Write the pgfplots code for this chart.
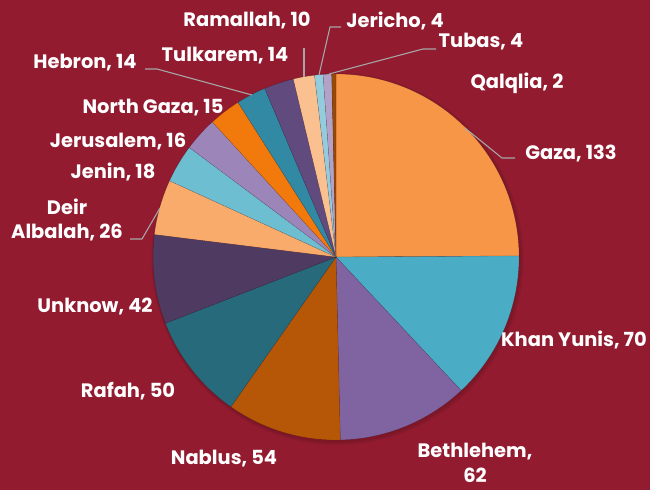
\documentclass[border=0pt]{standalone}
\usepackage{pgfplots}
\pgfplotsset{compat=1.18}
\usepackage{pgfplotstable}
\usepackage{fontspec}
\setmainfont{Poppins}
\definecolor{bg}{HTML}{921B30}
\definecolor{lead}{HTML}{A6A6A6}
\definecolor{c0}{HTML}{F79646}
\definecolor{c1}{HTML}{4BACC6}
\definecolor{c2}{HTML}{8064A2}
\definecolor{c3}{HTML}{B65708}
\definecolor{c4}{HTML}{276A7C}
\definecolor{c5}{HTML}{4F3B62}
\definecolor{c6}{HTML}{F9AB6C}
\definecolor{c7}{HTML}{6EBED2}
\definecolor{c8}{HTML}{9C86B9}
\definecolor{c9}{HTML}{F27A0C}
\definecolor{c10}{HTML}{3189A3}
\definecolor{c11}{HTML}{604A7E}
\definecolor{c12}{HTML}{FAC08F}
\definecolor{c13}{HTML}{93CDDD}
\definecolor{c14}{HTML}{B3A2C7}
\definecolor{c15}{HTML}{984807}

\pgfplotstableread{
value
133
70
62
54
50
42
26
18
16
15
14
14
10
4
4
2
}\piedata

\begin{document}
\def\total{0}%
\pgfplotstableforeachcolumnelement{value}\of\piedata\as\v{%
  \pgfmathsetmacro\tmp{\total+\v}\xdef\total{\tmp}}%
\def\cum{0}%
\pgfplotstableforeachcolumnelement{value}\of\piedata\as\v{%
  \pgfmathsetmacro\sa{90-(\cum/\total)*360}%
  \pgfmathsetmacro\nc{\cum+\v}%
  \pgfmathsetmacro\sb{90-(\nc/\total)*360}%
  \expandafter\xdef\csname sa\pgfplotstablerow\endcsname{\sa}%
  \expandafter\xdef\csname sb\pgfplotstablerow\endcsname{\sb}%
  \xdef\cum{\nc}}%
\begin{tikzpicture}[lbl/.style={font=\fontsize{19.5}{25}\selectfont\bfseries, text=white, inner sep=0pt, align=center},
  leader/.style={draw=lead, line width=1.1pt}]
\fill[bg] (0,0) rectangle (650bp,490bp);
\begin{axis}[at={(0,0)}, anchor=south west, x=1bp, y=1bp,
  xmin=0, xmax=650, ymin=0, ymax=490, hide axis, clip=false]
% soft shadow
\addplot[draw=none, fill=black, fill opacity=0.07, domain=0:360, samples=90, variable=\t] ({337.5+186*cos(\t)},{231+186*sin(\t)}) -- cycle;
\addplot[draw=none, fill=black, fill opacity=0.07, domain=0:360, samples=90, variable=\t] ({337+184.5*cos(\t)},{231.5+184.5*sin(\t)}) -- cycle;
\pgfplotsinvokeforeach{0,...,15}{
  \addplot[fill=c#1, draw=black, draw opacity=0.25, line width=0.3pt, domain=\csname sb#1\endcsname:\csname sa#1\endcsname, samples=80, variable=\t]
    ({336+183*cos(\t)},{233+183*sin(\t)}) -- (axis cs:336,233) -- cycle;
}
% leader lines
\draw[leader] (axis cs:465,362) -- (axis cs:502,332) -- (axis cs:515,332);
\draw[leader] (axis cs:329,416) -- (axis cs:423,441) -- (axis cs:436,441);
\draw[leader] (axis cs:319,415) -- (axis cs:330,463) -- (axis cs:341,463);
\draw[leader] (axis cs:304,413) -- (axis cs:304,442);
\draw[leader] (axis cs:145,421) -- (axis cs:157,421) -- (axis cs:252,395);
\draw[leader] (axis cs:130,251) -- (axis cs:142,251) -- (axis cs:160,282);
% labels
\node[lbl] at (axis cs:571,337) {Gaza, 133};
\node[lbl] at (axis cs:517,407) {Qalqlia, 2};
\node[lbl] at (axis cs:481,448) {Tubas, 4};
\node[lbl] at (axis cs:395,469) {Jericho, 4};
\node[lbl] at (axis cs:247,469) {Ramallah, 10};
\node[lbl] at (axis cs:225,434) {Tulkarem, 14};
\node[lbl] at (axis cs:85,427) {Hebron, 14};
\node[lbl] at (axis cs:153,382) {North Gaza, 15};
\node[lbl] at (axis cs:118,348) {Jerusalem, 16};
\node[lbl] at (axis cs:113,318) {Jenin, 18};
\node[lbl] at (axis cs:67,270) {Deir\\Albalah, 26};
\node[lbl] at (axis cs:95,183) {Unknow, 42};
\node[lbl] at (axis cs:128,99) {Rafah, 50};
\node[lbl] at (axis cs:224,31) {Nablus, 54};
\node[lbl] at (axis cs:475,27) {Bethlehem,\\62};
\node[lbl] at (axis cs:574,150) {Khan Yunis, 70};
\end{axis}
\end{tikzpicture}
\end{document}
